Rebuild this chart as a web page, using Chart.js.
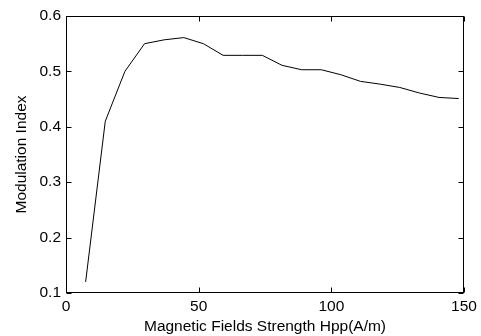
<!DOCTYPE html>
<html>
<head>
<meta charset="utf-8">
<script src="https://cdn.jsdelivr.net/npm/chart.js@4/dist/chart.umd.min.js"></script>
<style>
  html, body { margin: 0; padding: 0; background: #fff; }
  #wrap { width: 481px; height: 336px; }
</style>
</head>
<body>
<div id="wrap"><canvas id="modChart" width="481" height="336"></canvas></div>
<script>
// Measured modulation index vs. peak-to-peak field strength
const fieldStrength = [7.4, 14.8, 22.2, 29.6, 37, 44.4, 51.8, 59.2, 66.6, 74,
                       81.4, 88.8, 96.2, 103.6, 111, 118.4, 125.8, 133.2, 140.6, 148];
const modulationIndex = [0.12, 0.41, 0.50, 0.55, 0.557, 0.561, 0.55, 0.529, 0.529, 0.529,
                         0.511, 0.503, 0.503, 0.494, 0.482, 0.477, 0.471, 0.461, 0.453, 0.451];
const xTicks = [0, 50, 100, 150];
const yTicks = [0.1, 0.2, 0.3, 0.4, 0.5, 0.6];

const font = { family: '"Liberation Sans", Arial, sans-serif', size: 15.5 };

// Box around the plot plus inward-pointing tick marks on all four sides
const boxTicks = {
    id: 'boxTicks',
    afterDraw(chart) {
        const ctx = chart.ctx;
        const a = chart.chartArea;
        const xs = chart.scales.x, ys = chart.scales.y;
        const L = Math.round(a.left) + 0.5, R = Math.round(a.right) - 0.5;
        const T = Math.round(a.top) + 0.5, B = Math.round(a.bottom) - 0.5;
        const len = 5;
        ctx.save();
        ctx.strokeStyle = '#000';
        ctx.lineWidth = 1;
        ctx.strokeRect(L, T, R - L, B - T);
        ctx.beginPath();
        xTicks.forEach(v => {
            const px = Math.round(xs.getPixelForValue(v)) + 0.5;
            ctx.moveTo(px, B); ctx.lineTo(px, B - len);
            ctx.moveTo(px, T); ctx.lineTo(px, T + len);
        });
        yTicks.forEach(v => {
            const py = Math.round(ys.getPixelForValue(v)) + 0.5;
            ctx.moveTo(L, py); ctx.lineTo(L + len, py);
            ctx.moveTo(R, py); ctx.lineTo(R - len, py);
        });
        ctx.stroke();
        ctx.restore();
    }
};

new Chart(document.getElementById('modChart'), {
    type: 'line',
    data: {
        datasets: [{
            data: fieldStrength.map((x, i) => ({ x: x, y: modulationIndex[i] })),
            borderColor: '#000',
            borderWidth: 1,
            pointRadius: 0,
            tension: 0,
            fill: false
        }]
    },
    options: {
        responsive: false,
        animation: false,
        layout: { padding: { top: 16, right: 17, left: 0, bottom: 0 } },
        plugins: { legend: { display: false }, tooltip: { enabled: false } },
        scales: {
            x: {
                type: 'linear',
                min: 0, max: 150,
                afterBuildTicks: s => { s.ticks = xTicks.map(v => ({ value: v })); },
                afterFit: s => { s.height = 43; },
                grid: { display: false, drawTicks: false },
                border: { display: false },
                ticks: { color: '#000', font: font, padding: 4, maxRotation: 0 },
                title: {
                    display: true,
                    text: 'Magnetic Fields Strength Hpp(A/m)',
                    color: '#000', font: font,
                    padding: { top: 0, bottom: 0 }
                }
            },
            y: {
                min: 0.1, max: 0.6,
                afterBuildTicks: s => { s.ticks = yTicks.map(v => ({ value: v })); },
                afterFit: s => { s.width = 66; },
                grid: { display: false, drawTicks: false },
                border: { display: false },
                ticks: { color: '#000', font: font, padding: 5, callback: v => v.toFixed(1) },
                title: {
                    display: true,
                    text: 'Modulation Index',
                    color: '#000', font: font,
                    padding: { top: 12, bottom: 0 }
                }
            }
        }
    },
    plugins: [boxTicks]
});
</script>
</body>
</html>
